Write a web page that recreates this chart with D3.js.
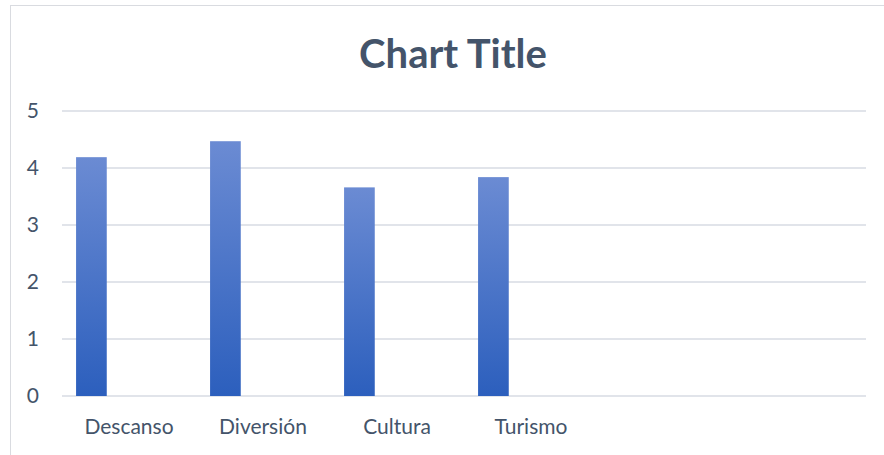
<!DOCTYPE html>
<html>
<head>
<meta charset="utf-8">
<script src="https://cdn.jsdelivr.net/npm/d3@7"></script>
<style>
  body { margin: 0; background: #fff; }
  text { font-family: Lato, "Open Sans", sans-serif; }
</style>
</head>
<body>
<svg width="884" height="455"></svg>
<script>
// chart data
const categories = ["Descanso", "Diversión", "Cultura", "Turismo"];
const values = [4.19, 4.47, 3.66, 3.84];
const slotCount = 6; // two empty category slots on the right
const yTicks = [0, 1, 2, 3, 4, 5];
const title = "Chart Title";

const svg = d3.select("svg");
const margin = { left: 62, right: 18, top: 111, bottom: 59 };
const width = 884, height = 455;

// frame of the chart area
svg.append("rect")
  .attr("x", 10.5).attr("y", 5.5)
  .attr("width", 885).attr("height", 470)
  .attr("fill", "#fff")
  .attr("stroke", "#d9dbe0");

const x = d3.scaleBand()
  .domain(d3.range(slotCount))
  .range([margin.left, width - margin.right]);

const y = d3.scaleLinear()
  .domain([0, 5])
  .range([height - margin.bottom, margin.top]);

// gradient for bars
const grad = svg.append("defs").append("linearGradient")
  .attr("id", "barGrad")
  .attr("x1", 0).attr("y1", 0).attr("x2", 0).attr("y2", 1);
grad.append("stop").attr("offset", "0%").attr("stop-color", "#6b8bd3");
grad.append("stop").attr("offset", "100%").attr("stop-color", "#2c5fbd");

// gridlines
svg.append("g")
  .selectAll("line")
  .data(yTicks)
  .join("line")
  .attr("x1", margin.left).attr("x2", width - margin.right)
  .attr("y1", (d) => y(d)).attr("y2", (d) => y(d))
  .attr("stroke", "#e1e4ea")
  .attr("stroke-width", 2);

// y axis labels
const yAxis = d3.axisLeft(y).tickValues(yTicks).tickFormat(d3.format("d"))
  .tickSize(0).tickPadding(0);
svg.append("g")
  .attr("transform", "translate(39,0)")
  .call(yAxis)
  .call((g) => g.select(".domain").remove())
  .selectAll("text")
  .attr("font-size", 21)
  .attr("fill", "#44546a");

// x axis labels
const xAxis = d3.axisBottom(x)
  .tickSize(0)
  .tickPadding(0)
  .tickFormat((i) => categories[i] || "");
svg.append("g")
  .attr("transform", `translate(0, ${height - margin.bottom + 23})`)
  .call(xAxis)
  .call((g) => g.select(".domain").remove())
  .selectAll("text")
  .attr("font-size", 21)
  .attr("fill", "#44546a");

// bars sit on the left part of each slot
svg.append("g")
  .selectAll("rect")
  .data(values)
  .join("rect")
  .attr("x", (d, i) => x(i) + x.bandwidth() * 0.105)
  .attr("width", x.bandwidth() * 0.229)
  .attr("y", (d) => y(d))
  .attr("height", (d) => y(0) - y(d))
  .attr("fill", "url(#barGrad)");

// title
svg.append("text")
  .attr("x", 453)
  .attr("y", 68)
  .attr("text-anchor", "middle")
  .attr("font-size", 40)
  .attr("font-weight", "bold")
  .attr("fill", "#44546a")
  .text(title);
</script>
</body>
</html>
